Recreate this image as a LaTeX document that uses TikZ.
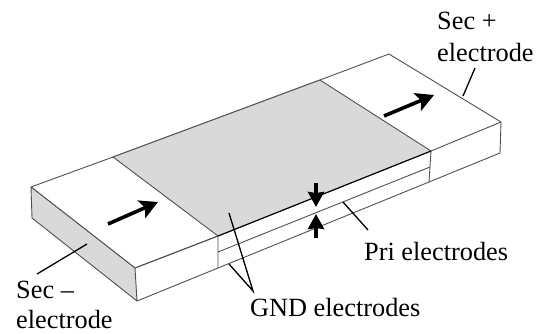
\documentclass[tikz,border=0pt]{standalone}
\usepackage{fontspec}
\setmainfont{Liberation Serif}
\usetikzlibrary{arrows.meta}
\definecolor{facegrey}{HTML}{D9D9D9}
\definecolor{edgegrey}{HTML}{505050}
\tikzset{
  edge/.style={draw=edgegrey,line width=0.9pt,line join=round},
  greyface/.style={fill=facegrey,edge},
  leader/.style={draw=black,line width=1.3pt},
  bigarrow/.style={draw=black,line width=3.6pt,-{Stealth[length=18pt,width=19pt,inset=4pt]}},
  gaparrow/.style={draw=black,line width=4pt,-{Stealth[length=15pt,width=16pt,inset=1pt]}},
  lbl/.style={inner sep=0pt,anchor=base west,font=\fontsize{26.3}{30}\selectfont}
}
\begin{document}
\begin{tikzpicture}[x=1pt,y=-1pt]
\useasboundingbox (0,0) rectangle (540,333);
% block corners
\coordinate (A) at (31,187);
\coordinate (B) at (135,268);
\coordinate (C) at (137,301);
\coordinate (D) at (32,218);
\coordinate (E) at (113,157);
\coordinate (F) at (218,236);
\coordinate (Fm) at (218,252);
\coordinate (Fb) at (218,268);
\coordinate (J) at (320,80);
\coordinate (H) at (431,151);
\coordinate (Hm) at (430,167);
\coordinate (Hb) at (429,182);
\coordinate (K) at (389,54);
\coordinate (L) at (501,122);
\coordinate (M) at (500,153);
% faces
\draw[edge] (A) -- (E) -- (J) -- (K) -- (L) -- (H) -- (F) -- (B) -- cycle;
\draw[greyface] (E) -- (J) -- (H) -- (F) -- cycle;
\draw[greyface] (A) -- (B) -- (C) -- (D) -- cycle;
\draw[edge] (B) -- (F) (C) -- (Fb) -- (Hb) -- (M) -- (L);
\draw[edge] (F) -- (Fb) (H) -- (Hb) (Fm) -- (Hm);
% thick top edge of gap
\draw[draw=black,line width=1pt] (F) -- (H);
% arrows
\coordinate (a1s) at (108,224);
\coordinate (a1e) at (158,202);
\coordinate (a2s) at (384,116);
\coordinate (a2e) at (434,95);
\coordinate (a3s) at (316,183);
\coordinate (a3e) at (316,207);
\coordinate (a4s) at (316,238);
\coordinate (a4e) at (316,214);
\draw[bigarrow] (a1s) -- (a1e);
\draw[bigarrow] (a2s) -- (a2e);
\draw[gaparrow] (a3s) -- (a3e);
\draw[gaparrow] (a4s) -- (a4e);
% labels
\node[lbl] (secp) at (437,29) {Sec +};
\node[lbl] (secpe) at (437,61) {electrode};
\node[lbl] (secm) at (16,298) {Sec –};
\node[lbl] (secme) at (16,328) {electrode};
\node[lbl] (pri) at (364,260) {Pri electrodes};
\node[lbl] (gnd) at (250,316) {GND electrodes};
% leaders
\coordinate (lsp) at (475,68);
\coordinate (lspe) at (463,96);
\coordinate (lsm) at (37,274);
\coordinate (lsme) at (87,244);
\coordinate (lp) at (368,230);
\coordinate (lpe) at (343,202);
\coordinate (lg) at (253,291);
\coordinate (lg1) at (229,213);
\coordinate (lg2) at (229,264);
\draw[leader] (lsp) -- (lspe);
\draw[leader] (lsm) -- (lsme);
\draw[leader] (lp) -- (lpe);
\draw[leader] (lg1) -- (lg) -- (lg2);
\end{tikzpicture}
\end{document}
